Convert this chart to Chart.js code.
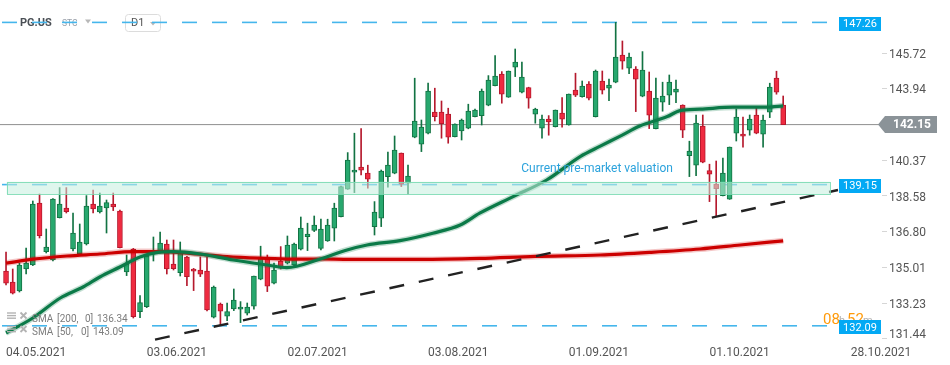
<!DOCTYPE html>
<html><head><meta charset="utf-8">
<script src="https://cdn.jsdelivr.net/npm/chart.js@4.4.0/dist/chart.umd.min.js"></script>
<style>html,body{margin:0;padding:0;background:#fff;}#wrap{width:950px;height:365px;}</style>
</head><body><div id="wrap"><canvas id="c" width="950" height="365"></canvas></div>
<script>
const FONT = "Roboto, 'Noto Sans', 'DejaVu Sans', sans-serif";

// x-axis date labels and the candle index they sit at
const dateLabels = ['04.05.2021','03.06.2021','02.07.2021','03.08.2021','01.09.2021','01.10.2021','28.10.2021'];
const dateTickIdx = [0, 21, 42, 63, 84, 105, 126.1];
const yTickValues = [131.44, 133.23, 135.01, 136.80, 138.58, 140.37, 142.15, 143.94, 145.72];

// daily candles PG.US D1 (04.05.2021 - 18.10.2021)
const opens = [134.83,134.27,133.83,134.93,135.13,138.23,135.80,135.38,137.50,137.98,
135.93,135.68,136.18,138.18,137.78,137.98,138.18,137.83,134.78,135.93,
132.80,133.05,135.75,135.80,136.18,135.17,134.75,135.53,134.93,134.88,
134.82,132.52,133.17,132.57,132.93,132.92,132.72,133.07,134.42,135.52,
134.22,135.33,135.22,135.13,135.92,136.55,136.86,135.96,136.33,136.97,
137.55,138.92,139.77,140.03,139.72,137.05,137.47,139.55,139.72,140.72,
139.22,141.52,141.17,141.72,142.78,142.78,142.67,141.55,141.83,141.97,
142.55,142.60,143.12,144.10,144.67,143.52,145.02,143.77,144.00,142.67,
141.97,142.43,142.05,142.72,142.13,143.87,143.55,144.17,142.55,144.32,
143.97,144.27,145.62,144.97,144.92,143.57,143.83,141.95,143.27,143.62,
143.77,143.12,140.60,140.12,142.07,139.85,139.18,138.60,138.42,141.72,
141.67,141.87,142.62,141.67,142.77,144.47,143.12];
const highs = [135.77,134.93,135.23,135.98,138.33,138.68,136.93,138.45,139.00,139.00,
137.73,137.18,138.60,138.88,138.73,138.38,138.73,137.88,135.63,135.96,
133.60,135.60,136.53,136.78,136.38,136.38,136.28,135.56,134.96,135.53,
135.53,134.08,133.23,133.23,133.93,133.30,133.23,134.58,136.07,135.63,
135.22,136.05,136.58,136.22,137.53,137.22,137.58,137.43,137.42,138.22,
139.08,140.75,141.72,141.95,140.12,138.30,139.88,140.78,141.58,140.73,
140.13,144.47,142.38,144.22,143.97,143.33,142.97,142.19,142.43,143.17,
142.93,143.93,144.60,145.60,144.80,144.83,145.93,145.27,144.02,142.97,
142.63,142.60,142.88,143.50,143.68,144.72,144.33,144.30,144.88,144.83,
144.42,147.26,146.33,145.72,145.05,145.80,144.78,144.47,144.27,144.63,
144.38,143.14,141.32,142.63,142.63,140.17,140.33,140.47,141.03,142.93,
142.52,142.63,142.97,142.63,144.22,144.82,143.58];
const lows = [134.13,133.68,133.78,134.68,135.10,136.48,135.73,135.33,137.48,137.73,
135.83,135.63,136.13,137.73,137.73,136.73,137.85,135.98,134.60,132.48,
132.50,133.00,135.33,135.73,134.68,134.88,134.58,134.10,133.85,134.55,
132.83,132.48,132.13,132.35,132.85,132.25,132.63,132.92,134.39,133.80,
134.19,134.93,135.18,135.08,135.88,135.85,136.80,135.88,136.31,136.33,
137.53,138.91,138.75,139.63,138.97,136.63,137.05,139.02,139.69,139.05,
138.68,141.49,140.80,141.69,142.33,141.47,141.22,141.53,141.38,141.94,
142.53,142.13,143.09,144.08,143.22,143.51,144.55,143.74,142.97,142.22,
141.47,141.62,142.03,142.02,142.12,143.55,143.52,143.38,142.53,143.68,
143.35,144.24,144.92,144.70,142.80,143.54,141.95,141.93,142.82,143.15,
143.25,141.50,139.55,139.60,140.24,138.30,137.55,138.58,138.41,141.33,
141.02,141.62,141.69,141.02,142.50,143.67,142.15];
const closes = [134.22,133.72,135.13,135.23,138.18,136.60,136.03,138.43,138.18,137.80,
136.73,136.28,138.08,137.93,138.08,138.25,138.03,136.00,135.18,132.55,
133.25,135.58,135.83,136.23,134.93,134.95,135.80,134.55,134.82,134.67,
132.88,134.03,132.82,132.80,133.38,133.03,133.02,134.57,135.52,134.07,
134.87,134.97,136.12,136.17,136.97,136.67,137.12,136.93,137.12,137.97,
139.05,140.38,139.87,139.87,139.42,137.77,139.83,140.12,140.88,139.17,
139.58,142.33,142.03,143.83,142.55,142.20,141.52,142.17,142.38,142.83,
142.88,143.83,144.37,144.58,143.67,144.82,145.27,144.52,143.47,142.92,
142.42,142.28,142.87,142.42,143.67,143.62,144.08,143.47,144.83,143.87,
144.12,145.52,145.32,145.52,144.42,144.87,142.62,143.47,143.58,144.27,
143.92,141.87,140.82,142.22,140.27,139.67,138.95,139.72,141.02,142.52,
141.57,142.42,141.72,142.38,144.02,143.77,142.15];

// moving averages read at candle positions
const sma200X = [0,4,9.1,14,19,23,27,33,37.9,42.8,46.9,51.3,61.8,70.7,79,88.7,96.1,103.6,109.6,116];
const sma200Y = [135.22,135.42,135.58,135.68,135.80,135.80,135.72,135.55,135.47,135.42,135.43,135.41,135.41,135.46,135.56,135.63,135.76,135.93,136.13,136.34];
const sma50X = [0,4,8.1,11.5,14,17,20,22.5,24.9,29,33.9,39,41.9,46.9,50.9,53.9,58.8,63.7,67.8,70.7,75.7,80.7,85.7,88.7,91.6,94.6,98.7,100.6,103.6,108.5,113.6,116];
const sma50Y = [131.73,132.48,133.48,134.03,134.53,135.03,135.53,135.75,135.80,135.68,135.38,135.13,135.00,135.43,135.88,136.13,136.35,136.72,137.13,137.72,138.55,139.38,140.55,141.07,141.56,142.08,142.55,142.85,142.92,143.02,143.02,143.09];

// levels, zone, trend line
const levelValues = [147.26, 139.15, 132.09];
const levelX = [-0.6, 124];
const lastPrice = 142.15;
const zoneY = [138.67, 139.29];
const zoneX = [0.1, 123];
const trendX = [22.24, 124.18];
const trendY = [131.40, 138.88];
const sma200Last = 136.34, sma50Last = 143.09;

const X_MIN = -0.9, X_MAX = 130.75, Y_MIN = 131.33, Y_MAX = 148.38;

const up = opens.map((o,i)=>closes[i]>=o);
const GREEN='#27a86e', GREEN_D='#127343', RED='#ef2b40', RED_D='#b5192d';

const datasets = [];
datasets.push({type:'line', label:'trend', data: trendX.map((x,i)=>({x, y:trendY[i]})),
  borderColor:'#222', borderWidth:2.4, borderDash:[15,15], pointRadius:0, order:0});
datasets.push({type:'line', label:'sma50', data: sma50X.map((x,i)=>({x, y:sma50Y[i]})),
  borderColor:'#0b7a48', borderWidth:3.2, pointRadius:0, cubicInterpolationMode:'monotone', order:1});
datasets.push({type:'line', label:'sma50h', data: sma50X.map((x,i)=>({x, y:sma50Y[i]})),
  borderColor:'rgba(11,122,72,0.25)', borderWidth:6, pointRadius:0, cubicInterpolationMode:'monotone', order:2});
datasets.push({type:'line', label:'sma200', data: sma200X.map((x,i)=>({x, y:sma200Y[i]})),
  borderColor:'#cc0000', borderWidth:3.2, pointRadius:0, cubicInterpolationMode:'monotone', order:3});
datasets.push({type:'line', label:'sma200h', data: sma200X.map((x,i)=>({x, y:sma200Y[i]})),
  borderColor:'rgba(204,0,0,0.22)', borderWidth:6, pointRadius:0, cubicInterpolationMode:'monotone', order:4});
datasets.push({type:'bar', label:'body', data: opens.map((o,i)=>({x:i, y:[o, closes[i]]})),
  backgroundColor: up.map(u=>u?GREEN:RED), borderColor: up.map(u=>u?GREEN_D:RED_D),
  borderWidth:1, borderSkipped:false, barThickness:5, minBarLength:2, grouped:false, order:5});
datasets.push({type:'bar', label:'wick', data: opens.map((o,i)=>({x:i, y:[lows[i], highs[i]]})),
  backgroundColor: up.map(u=>u?GREEN_D:RED_D), borderWidth:0, barThickness:1, grouped:false, order:6});
levelValues.forEach((v,k)=>datasets.push({type:'line', label:'lvl'+k,
  data: levelX.map(x=>({x, y:v})), borderColor:'#45b6ec', borderWidth:1.6, borderDash:[15,15], pointRadius:0, order:7}));
datasets.push({type:'line', label:'last', data:[{x:X_MIN,y:lastPrice},{x:X_MAX,y:lastPrice}],
  borderColor:'#8f8f8f', borderWidth:1, pointRadius:0, order:8});

function tri(ctx,x,y,w,h,c){ctx.fillStyle=c;ctx.beginPath();ctx.moveTo(x,y);ctx.lineTo(x+w,y);ctx.lineTo(x+w/2,y+h);ctx.closePath();ctx.fill();}

const overlay = {
  id:'overlay',
  beforeDatasetsDraw(chart){
    const ctx = chart.ctx;
    ctx.save();
    ctx.textBaseline='middle';
    ctx.fillStyle='#4a4f55'; ctx.font="bold 11px "+FONT; ctx.fillText('PG.US',20,23);
    ctx.fillStyle='#9aa0aa'; ctx.font="8.5px "+FONT; ctx.fillText('STC',62,24);
    tri(ctx,85,19.5,6,4,'#b8b8b8');
    ctx.strokeStyle='#dcdcdc'; ctx.lineWidth=1;
    ctx.beginPath(); ctx.roundRect(125.5,14.5,35,17,3); ctx.stroke();
    ctx.fillStyle='#555'; ctx.font="11px "+FONT; ctx.fillText('D1',131,23.5);
    tri(ctx,150,22,6,3.5,'#b8b8b8');
    ctx.restore();
  },
  afterDatasetsDraw(chart){
    const {ctx, scales:{x,y}} = chart;
    const zx0=x.getPixelForValue(zoneX[0]), zx1=x.getPixelForValue(zoneX[1]);
    const zy0=y.getPixelForValue(zoneY[1]), zy1=y.getPixelForValue(zoneY[0]);
    ctx.save();
    ctx.fillStyle='rgba(196,239,222,0.55)';
    ctx.fillRect(zx0,zy0,zx1-zx0,zy1-zy0);
    ctx.strokeStyle='rgba(120,218,178,0.85)'; ctx.lineWidth=1;
    ctx.strokeRect(Math.round(zx0)+0.5,Math.round(zy0)+0.5,Math.round(zx1-zx0),Math.round(zy1-zy0));
    ctx.fillStyle='#2ba2dc'; ctx.font="12px "+FONT; ctx.textBaseline='alphabetic';
    ctx.fillText('Current pre-market valuation', x.getPixelForValue(76.9), y.getPixelForValue(139.8));
    ctx.restore();
  },
  afterDraw(chart){
    const {ctx, scales:{x,y}, chartArea:ca} = chart;
    ctx.save();
    const rows=[['SMA','[200,','0]',sma200Last.toFixed(2),[32,57,85,97]],['SMA','[50,','0]',sma50Last.toFixed(2),[32,57,81,93]]];
    rows.forEach((r,k)=>{
      const cy = 319 + k*13.5;
      ctx.strokeStyle='#b3b3b3'; ctx.lineWidth=1.4;
      for(let j=0;j<3;j++){ctx.beginPath();ctx.moveTo(7,cy-6+j*2.6);ctx.lineTo(16,cy-6+j*2.6);ctx.stroke();}
      ctx.lineWidth=1.8; ctx.beginPath(); ctx.moveTo(20.5,cy-6.5); ctx.lineTo(26.5,cy-0.5); ctx.moveTo(26.5,cy-6.5); ctx.lineTo(20.5,cy-0.5); ctx.stroke();
      ctx.fillStyle='#7d7d7d'; ctx.font="10px "+FONT; ctx.textBaseline='middle';
      for(let j=0;j<4;j++) ctx.fillText(r[j], r[4][j], cy);
    });
    ctx.textBaseline='middle';
    ctx.font="15px "+FONT; ctx.fillStyle='#ff9a0a'; ctx.fillText('08',823,320);
    ctx.font="11px "+FONT; ctx.fillStyle='#b0b0b0'; ctx.fillText('h',839,321);
    ctx.font="15px "+FONT; ctx.fillStyle='#ff9a0a'; ctx.fillText('52',847,320);
    ctx.font="11px "+FONT; ctx.fillStyle='#b0b0b0'; ctx.fillText('m',863,321);
    levelValues.forEach(v=>{
      const py = y.getPixelForValue(v)+1.5;
      ctx.fillStyle='#03a9f4'; ctx.fillRect(ca.right-43, Math.round(py-7), 42, 14);
      ctx.fillStyle='#fff'; ctx.font="11px "+FONT; ctx.textAlign='center'; ctx.textBaseline='middle';
      ctx.fillText(v.toFixed(2), ca.right-22, py+0.5);
    });
    const ly = y.getPixelForValue(lastPrice);
    ctx.fillStyle='#8b9398';
    ctx.beginPath(); ctx.moveTo(ca.right-4, ly); ctx.lineTo(ca.right+3, ly-8.5); ctx.lineTo(ca.right+55, ly-8.5);
    ctx.lineTo(ca.right+55, ly+8.5); ctx.lineTo(ca.right+3, ly+8.5); ctx.closePath(); ctx.fill();
    ctx.fillStyle='#fff'; ctx.font="bold 12px "+FONT; ctx.textAlign='center';
    ctx.fillText(lastPrice.toFixed(2), ca.right+30, ly+0.5);
    ctx.textAlign='left'; ctx.fillStyle='#555'; ctx.font="12px "+FONT;
    ctx.fillText(yTickValues[0].toFixed(2), ca.right+7, y.getPixelForValue(yTickValues[0])-4);
    ctx.restore();
  }
};

new Chart(document.getElementById('c'), {
  type:'bar',
  data:{datasets},
  options:{
    responsive:false, animation:false, devicePixelRatio:1,
    layout:{padding:0},
    plugins:{legend:{display:false}, tooltip:{enabled:false}},
    events:[],
    scales:{
      x:{type:'linear', min:X_MIN, max:X_MAX, offset:false,
        grid:{display:false, offset:false}, border:{display:false},
        afterBuildTicks:s=>{s.ticks=dateTickIdx.map(v=>({value:v}));},
        afterFit:s=>{s.height=24; s.paddingLeft=0; s.paddingRight=0; s.paddingTop=0; s.paddingBottom=0;},
        ticks:{autoSkip:false, maxRotation:0, align:'start', padding:-3, color:'#555', font:{size:12, family:FONT},
          callback:(v,i)=>dateLabels[i]}},
      y:{type:'linear', position:'right', min:Y_MIN, max:Y_MAX,
        grid:{drawOnChartArea:false, drawTicks:true, tickLength:5, tickColor:'#d6d6d6'}, border:{display:false},
        afterBuildTicks:s=>{s.ticks=yTickValues.map(v=>({value:v}));},
        afterFit:s=>{s.width=68; s.paddingLeft=0; s.paddingRight=0; s.paddingTop=0; s.paddingBottom=0;},
        ticks:{padding:2, labelOffset:1.5, color:'#555', font:{size:12, family:FONT},
          callback:v=>(v===lastPrice||v===yTickValues[0])?'':v.toFixed(2)}}
    }
  },
  plugins:[overlay]
});
</script></body></html>
